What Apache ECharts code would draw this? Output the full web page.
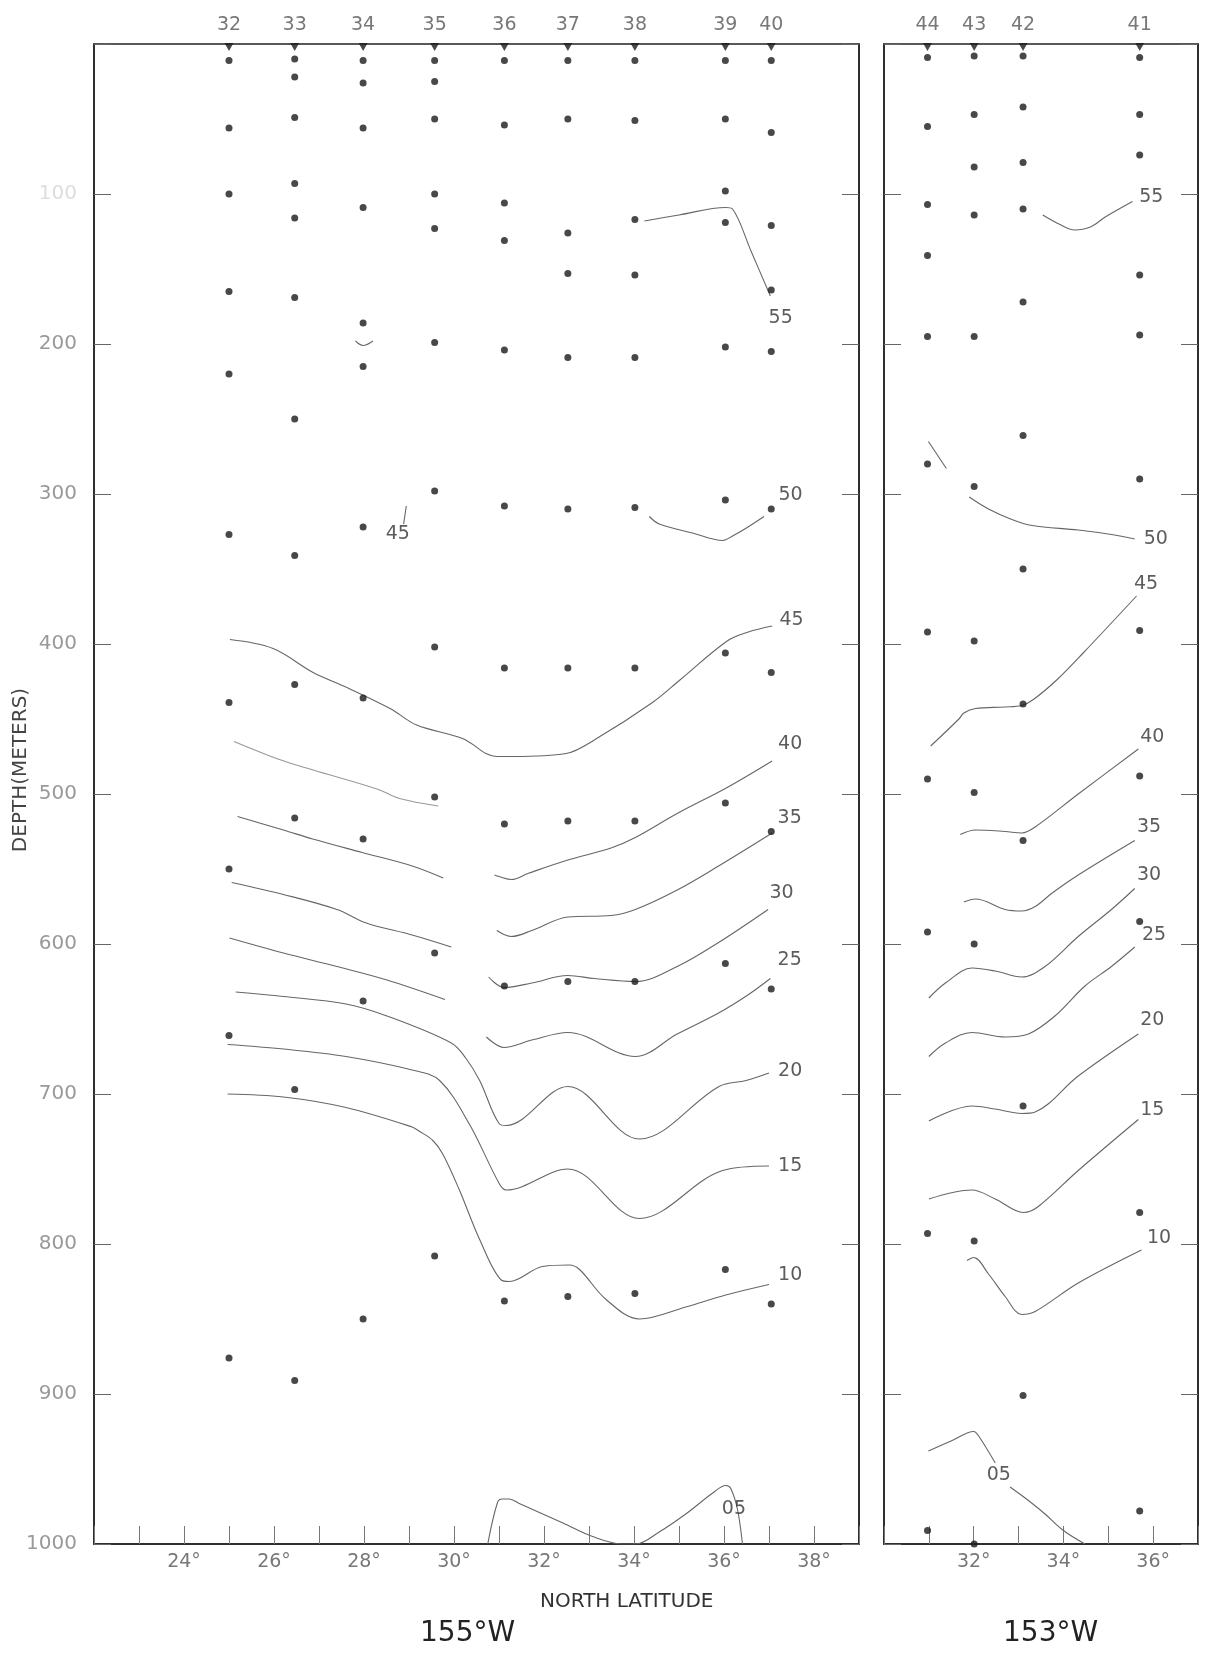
<!DOCTYPE html>
<html><head><meta charset="utf-8">
<script src="https://cdn.jsdelivr.net/npm/echarts@6/dist/echarts.min.js"></script>
<style>html,body{margin:0;padding:0;background:#fff}#c{width:1207px;height:1655px}</style>
</head><body><div id="c"></div>
<script>
// ---------------- DATA ----------------
// Stations along 155°W (left panel)
const leftStations = ['32','33','34','35','36','37','38','39','40'];
const leftStationLat = [25.00, 26.46, 27.98, 29.57, 31.12, 32.53, 34.02, 36.03, 37.05];
const depth32 = [0, 11, 56, 100, 165, 220, 327, 439, 550, 661, 876];
const depth33 = [0, 10, 22, 49, 93, 116, 169, 250, 341, 427, 516, 697, 891];
const depth34 = [0, 11, 26, 56, 109, 186, 215, 322, 436, 530, 638, 850];
const depth35 = [0, 11, 25, 50, 100, 123, 199, 298, 402, 502, 606, 808];
const depth36 = [0, 11, 54, 106, 131, 204, 308, 416, 520, 628, 838];
const depth37 = [0, 11, 50, 126, 153, 209, 310, 416, 518, 625, 835];
const depth38 = [0, 11, 51, 117, 154, 209, 309, 416, 518, 625, 833];
const depth39 = [0, 11, 50, 98, 119, 202, 304, 406, 506, 613, 817];
const depth40 = [0, 11, 59, 121, 164, 205, 310, 419, 525, 630, 840];
const leftDepths = [depth32, depth33, depth34, depth35, depth36, depth37, depth38, depth39, depth40];

// Stations along 153°W (right panel)
const rightStations = ['44','43','42','41'];
const rightStationLat = [30.97, 32.01, 33.10, 35.70];
const depth44 = [0, 9, 55, 107, 141, 195, 280, 392, 490, 592, 793, 991];
const depth43 = [0, 8, 47, 82, 114, 195, 295, 398, 499, 600, 798, 1000];
const depth42 = [0, 8, 42, 79, 110, 172, 261, 350, 440, 531, 708, 901];
const depth41 = [0, 9, 47, 74, 154, 194, 290, 391, 488, 585, 779, 978];
const rightDepths = [depth44, depth43, depth42, depth41];

// Isoline traces, left panel [latitude, depth]
const c55L = [[34.23,118],[35.00,114],[36.04,109],[36.19,110],[36.60,138],[37.03,168]];
const c200L = [[27.81,198],[27.98,201],[28.20,198]];
const c50L = [[34.34,315],[34.56,320],[35.30,326],[35.97,331],[36.19,328],[36.48,323],[36.89,315]];
const c45smallL = [[28.94,308],[28.88,320]];
const c45L = [[25.02,397],[25.98,403],[26.87,419],[27.62,429],[28.58,443],[29.17,454],[30.19,463],[30.94,475],[31.32,475],[32.49,473],[33.17,463],[34.41,439],[35.02,424],[36.07,398],[36.54,392],[37.07,388]];
const c40La = [[25.11,465],[26.12,477],[26.87,484],[28.32,497],[28.79,503],[29.65,508]];
const c40Lb = [[30.90,554],[31.00,555],[31.28,557],[31.64,553],[32.53,544],[33.49,536],[34.03,529],[34.96,513],[36.05,496],[37.07,478]];
const c35La = [[25.19,515],[26.21,524],[26.86,530],[27.96,539],[29.07,548],[29.76,556]];
const c35Lb = [[30.95,591],[31.28,595],[31.73,591],[32.53,582],[33.49,581],[34.03,577],[34.96,564],[35.88,548],[37.07,526]];
const c30La = [[25.06,559],[26.21,567],[27.40,577],[28.05,586],[29.07,594],[29.94,602]];
const c30Lb = [[30.77,622],[31.11,629],[31.73,626],[32.53,621],[33.12,623],[34.03,625],[34.96,615],[35.88,599],[36.98,577]];
const c25La = [[25.01,596],[26.21,606],[27.40,615],[28.51,624],[29.80,637]];
const c25Lb = [[30.72,662],[31.11,669],[31.73,664],[32.53,659],[34.03,675],[34.96,660],[35.88,646],[36.53,634],[37.03,623]];
const c20L = [[25.15,632],[26.21,635],[27.60,640],[28.51,648],[29.94,666],[30.26,676],[30.57,691],[31.01,720],[31.16,721],[32.53,695],[34.12,730],[35.89,695],[36.49,691],[37.00,686]];
const c15L = [[24.97,667],[26.21,670],[27.60,675],[29.07,684],[29.68,691],[30.34,720],[31.01,760],[31.16,764],[32.53,750],[34.12,783],[35.97,751],[37.00,748]];
const c10L = [[24.97,700],[26.21,702],[27.60,709],[29.07,722],[29.24,725],[29.53,731],[29.75,740],[30.12,764],[30.57,797],[31.05,824],[31.23,825],[31.97,815],[32.56,814],[32.79,817],[33.38,837],[34.12,850],[35.15,842],[36.04,834],[37.00,827]];
const c05L = [[30.75,1000],[30.97,972],[31.08,970],[31.23,970],[31.45,973],[32.42,986],[33.08,995],[33.75,1000],[34.04,1000],[34.56,992],[35.15,980],[35.75,966],[36.04,961],[36.15,963],[36.30,977],[36.41,1000]];

// Isoline traces, right panel
const c55R = [[33.54,114],[33.90,120],[34.25,124],[34.60,122],[34.95,115],[35.54,105]];
const c50Ra = [[30.99,265],[31.39,283]];
const c50Rb = [[31.90,302],[32.33,310],[32.85,317],[33.30,321],[34.33,324],[35.07,327],[35.59,330]];
const c45R = [[31.04,468],[31.67,450],[31.78,446],[32.04,443],[32.70,442],[33.07,441],[33.33,437],[33.85,424],[34.44,406],[35.63,368]];
const c40R = [[31.70,527],[32.04,524],[32.70,525],[33.07,526],[33.37,522],[34.33,500],[35.67,470]];
const c35R = [[31.78,572],[32.04,570],[32.70,577],[33.07,578],[33.37,575],[33.75,566],[34.33,554],[35.59,531]];
const c30R = [[31.00,636],[31.37,626],[31.96,616],[32.48,618],[33.07,622],[33.59,615],[34.33,595],[35.07,577],[35.59,563]];
const c25R = [[31.00,675],[31.37,666],[31.96,659],[32.70,662],[33.22,660],[33.81,648],[34.48,628],[35.07,615],[35.59,602]];
const c20R = [[31.00,718],[31.96,708],[32.48,710],[33.07,713],[33.37,712],[34.33,688],[35.67,660]];
const c15R = [[31.00,770],[31.96,764],[32.48,770],[33.11,779],[33.44,775],[34.33,751],[35.67,717]];
const c10R = [[31.85,811],[32.00,809],[32.33,820],[32.70,835],[33.07,847],[33.37,845],[34.33,826],[35.74,804]];
const c05Ra = [[30.99,938],[31.52,931],[32.00,925],[32.11,928],[32.48,946]];
const c05Rb = [[32.81,962],[33.22,971],[33.59,980],[34.00,991],[34.48,1000]];

// Isoline value labels: text, latitude, depth
const leftLabelText = ['55','50','45','40','35','30','25','20','15','10','05','45'];
const leftLabelLat  = [37.26,37.48,37.50,37.47,37.46,37.28,37.46,37.47,37.47,37.47,36.22,28.75];
const leftLabelDep  = [183,301,384,467,516,566,611,685,748,821,977,327];
const rightLabelText = ['55','50','45','40','35','30','25','20','15','10','05'];
const rightLabelLat  = [35.96,36.06,35.84,35.98,35.91,35.91,36.02,35.98,35.98,36.13,32.56];
const rightLabelDep  = [102,330,360,462,522,554,594,651,711,796,954];

// Axis ticks
const leftLatTicks = [24,26,28,30,32,34,36,38];
const rightLatTicks = [32,34,36];

// ---------------- CHART ----------------
const FONT = 'DejaVu Sans';
const LINE = '#666';
const chart = echarts.init(document.getElementById('c'), null, {renderer:'canvas'});

function iso(data, panel, color, width) {
  return {type:'line', xAxisIndex:panel, yAxisIndex: panel===0 ? 0 : 2, data:data,
    symbol:'none', showSymbol:false, smooth:0.35, silent:true, z:2,
    lineStyle:{color: color || LINE, width: width || 1.1}};
}
function dots(lats, depths, panel) {
  const d = [];
  lats.forEach((lat,i) => depths[i].forEach(z => { if (z > 0) d.push([lat, z]); }));
  return {type:'scatter', xAxisIndex:panel, yAxisIndex: panel===0 ? 0 : 2, data:d,
    symbol:'circle', symbolSize:7, itemStyle:{color:'#1a1a1a'}, z:5, silent:true};
}
function surface(lats, names, panel) {
  return {type:'scatter', xAxisIndex:panel, yAxisIndex: panel===0 ? 0 : 2,
    data: lats.map((lat,i) => ({name:names[i], value:[lat, 0]})),
    symbol:'triangle', symbolRotate:180, symbolSize:[9,8], symbolOffset:[0,3],
    itemStyle:{color:'#1a1a1a'}, z:6, silent:true,
    label:{show:true, position:'top', distance:8, formatter:'{b}', color:'#555',
      fontFamily:FONT, fontSize:19}};
}
function labels(texts, lats, deps, panel) {
  return {type:'scatter', xAxisIndex:panel, yAxisIndex: panel===0 ? 0 : 2,
    data: texts.map((t,i) => ({name:t, value:[lats[i], deps[i]]})),
    symbolSize:0, z:7, silent:true,
    label:{show:true, position:'inside', formatter:'{b}', color:'#333',
      fontFamily:FONT, fontSize:19}};
}

const xBase = {type:'value', interval:1, position:'bottom',
  axisLine:{onZero:false, lineStyle:{color:'#222', width:1.5}},
  axisTick:{inside:true, length:18, lineStyle:{color:'#777', width:1}},
  splitLine:{show:false}};
const yBase = {type:'value', min:0, max:1000, interval:100, inverse:true,
  axisLine:{show:true, onZero:false, lineStyle:{color:'#222', width:1.5}},
  axisTick:{inside:true, length:17, lineStyle:{color:'#666', width:1}},
  splitLine:{show:false}};

const option = {
  animation:false,
  backgroundColor:'#fff',
  textStyle:{fontFamily:FONT},
  grid:[
    {left:94, top:44, width:765, height:1500, show:true, borderColor:'#222', borderWidth:1.5, containLabel:false, outerBoundsMode:'none'},
    {left:884, top:44, width:314, height:1500, show:true, borderColor:'#222', borderWidth:1.5, containLabel:false, outerBoundsMode:'none'}
  ],
  xAxis:[
    Object.assign({}, xBase, {gridIndex:0, min:22, max:39,
      axisLabel:{interval:0, margin:9, color:'#777', fontSize:19, fontFamily:FONT,
        formatter: v => leftLatTicks.indexOf(v) >= 0 ? v + '°' : ''}}),
    Object.assign({}, xBase, {gridIndex:1, min:30, max:37,
      axisLabel:{interval:0, margin:9, color:'#777', fontSize:19, fontFamily:FONT,
        formatter: v => rightLatTicks.indexOf(v) >= 0 ? v + '°' : ''}})
  ],
  yAxis:[
    Object.assign({}, yBase, {gridIndex:0, position:'left',
      axisLabel:{margin:17, color:'#999', fontSize:20, fontFamily:FONT,
        formatter: v => v === 0 ? '' : (v === 100 ? '{f|100}' : String(v)),
        rich:{f:{color:'#ddd', fontSize:20, fontFamily:FONT}}}}),
    Object.assign({}, yBase, {gridIndex:0, position:'right', axisLabel:{show:false}}),
    Object.assign({}, yBase, {gridIndex:1, position:'left', axisLabel:{show:false}}),
    Object.assign({}, yBase, {gridIndex:1, position:'right', axisLabel:{show:false}})
  ],
  graphic:[
    {type:'text', x:21, y:770, rotation:Math.PI/2,
      style:{text:'DEPTH(METERS)', fill:'#444', font:'20px "DejaVu Sans"', textAlign:'center', textVerticalAlign:'middle'}},
    {type:'text', left:540, top:1592, style:{text:'NORTH LATITUDE', fill:'#333', font:'20px "DejaVu Sans"'}},
    {type:'text', left:420, top:1620, style:{text:'155°W', fill:'#222', font:'28px "DejaVu Sans"'}},
    {type:'text', left:1003, top:1620, style:{text:'153°W', fill:'#222', font:'28px "DejaVu Sans"'}}
  ],
  series:[
    iso(c55L,0), iso(c200L,0), iso(c50L,0), iso(c45smallL,0),
    iso(c45L,0), iso(c40La,0,'#999'), iso(c40Lb,0), iso(c35La,0), iso(c35Lb,0),
    iso(c30La,0), iso(c30Lb,0), iso(c25La,0), iso(c25Lb,0),
    iso(c20L,0), iso(c15L,0), iso(c10L,0), iso(c05L,0),
    iso(c55R,1), iso(c50Ra,1), iso(c50Rb,1), iso(c45R,1), iso(c40R,1), iso(c35R,1),
    iso(c30R,1), iso(c25R,1), iso(c20R,1), iso(c15R,1), iso(c10R,1), iso(c05Ra,1), iso(c05Rb,1),
    dots(leftStationLat, leftDepths, 0), dots(rightStationLat, rightDepths, 1),
    surface(leftStationLat, leftStations, 0), surface(rightStationLat, rightStations, 1),
    labels(leftLabelText, leftLabelLat, leftLabelDep, 0),
    labels(rightLabelText, rightLabelLat, rightLabelDep, 1)
  ]
};
chart.setOption(option);
</script></body></html>
